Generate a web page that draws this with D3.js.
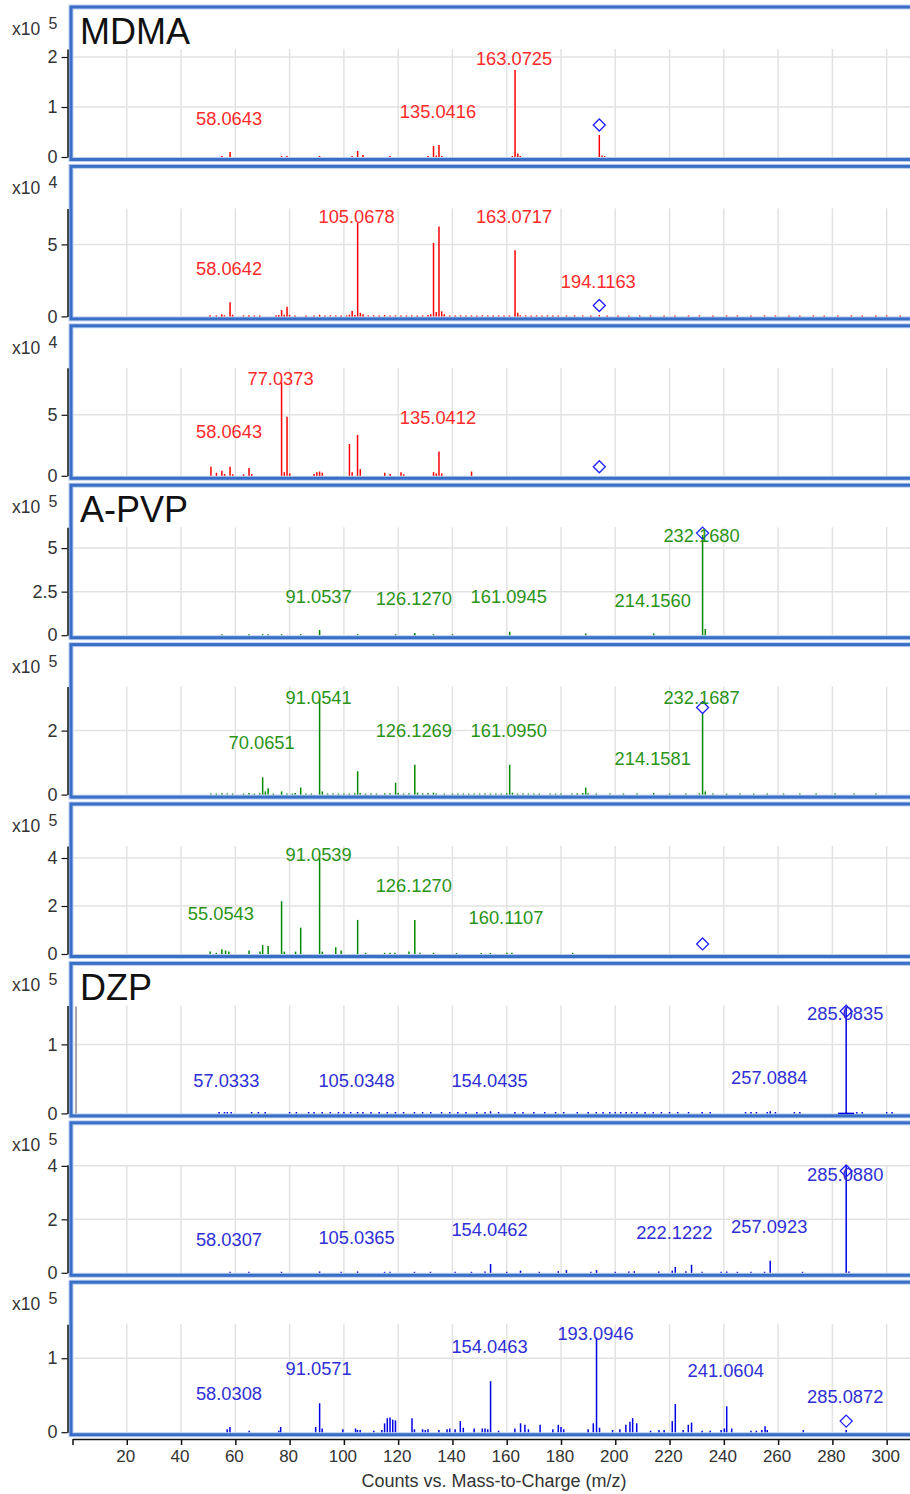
<!DOCTYPE html>
<html>
<head>
<meta charset="utf-8">
<script src="https://cdn.jsdelivr.net/npm/d3@7"></script>
<style>
  body { margin: 0; background: #fff; }
  svg { display: block; }
  text { font-family: "Liberation Sans", Arial, sans-serif; }
</style>
</head>
<body>
<svg id="chart" width="910" height="1494"></svg>
<script>
// ---------------------------------------------------------------
// Spectra: nine stacked MS/MS panels (three per compound)
// Each peak is [m/z, intensity in units of 10^exponent]
// ---------------------------------------------------------------
const panelTitles   = ["MDMA", "", "", "A-PVP", "", "", "DZP", "", ""];
const panelCompound = ["MDMA", "MDMA", "MDMA", "A-PVP", "A-PVP", "A-PVP", "DZP", "DZP", "DZP"];
const panelExponent = [5, 4, 4, 5, 5, 5, 5, 5, 5];
const panelYMax     = [2.16, 7.5, 8.85, 6.2, 3.375, 4.5, 1.565, 4.04, 1.46];
const panelYTicks   = [[0, 1, 2], [0, 5], [0, 5], [0, 2.5, 5], [0, 2], [0, 2, 4], [0, 1], [0, 2, 4], [0, 1]];

// precursor m/z and diamond level for each panel
const precursorMz    = [194.1163, 194.1163, 194.1163, 232.1680, 232.1680, 232.1680, 285.0835, 285.0835, 285.0835];
const precursorLevel = [0.64, 0.76, 0.74, 5.86, 2.72, 0.42, 1.48, 3.81, 0.15];

const xTickValues = [0, 20, 40, 60, 80, 100, 120, 140, 160, 180, 200, 220, 240, 260, 280, 300];
const xAxisTitle = "Counts vs. Mass-to-Charge (m/z)";

const peaksMDMA1 = [
  [55.05, 0.01], [58.06, 0.10], [77.04, 0.01], [79.05, 0.02], [91.05, 0.01], [103.04, 0.02],
  [105.07, 0.12], [107.05, 0.04], [117.0, 0.02], [131.0, 0.01], [133.03, 0.22], [134.04, 0.03],
  [135.04, 0.24], [136.04, 0.02], [162.06, 0.02], [163.07, 1.74], [164.08, 0.07], [165.0, 0.01],
  [194.12, 0.44], [195.12, 0.03], [196.1, 0.02]
];
const peaksMDMA2 = [
  [50.7, 0.08], [53.0, 0.06], [55.0, 0.15], [56.0, 0.08], [58.06, 0.98], [59.0, 0.12], [63.0, 0.06],
  [65.0, 0.08], [67.0, 0.05], [69.0, 0.06], [75.0, 0.08], [76.0, 0.1], [77.04, 0.44], [78.0, 0.12],
  [79.05, 0.67], [80.0, 0.1], [82.0, 0.05], [86.0, 0.05], [89.0, 0.06], [91.05, 0.12], [93.0, 0.05],
  [95.0, 0.06], [97.0, 0.05], [99.0, 0.06], [101.0, 0.05], [102.05, 0.12], [103.05, 0.37],
  [104.05, 0.1], [105.07, 6.5], [106.07, 0.25], [107.05, 0.15], [109.0, 0.06], [111.0, 0.05],
  [113.0, 0.05], [115.0, 0.1], [117.0, 0.06], [119.0, 0.05], [121.0, 0.06], [123.0, 0.05],
  [125.0, 0.05], [127.0, 0.05], [129.0, 0.05], [131.0, 0.1], [132.0, 0.15], [133.03, 5.1],
  [134.04, 0.3], [135.04, 6.25], [136.04, 0.35], [137.0, 0.15], [139.0, 0.06], [141.0, 0.05],
  [143.0, 0.05], [145.0, 0.06], [147.0, 0.06], [149.0, 0.05], [151.0, 0.05], [153.0, 0.05],
  [155.0, 0.06], [157.0, 0.05], [159.0, 0.05], [161.0, 0.06], [163.07, 4.6], [164.07, 0.25],
  [165.0, 0.08], [167.0, 0.05], [169.0, 0.05], [171.0, 0.05], [173.0, 0.05], [175.0, 0.05],
  [177.0, 0.06], [179.0, 0.06], [182.0, 0.05], [185.0, 0.05], [188.0, 0.05], [191.0, 0.05],
  [194.12, 0.1], [197.0, 0.05], [201.0, 0.05], [205.0, 0.05], [209.0, 0.05], [213.0, 0.05],
  [218.0, 0.05], [222.0, 0.05], [227.0, 0.05], [231.0, 0.05], [236.0, 0.05], [241.0, 0.05],
  [245.0, 0.05], [250.0, 0.05], [255.0, 0.05], [259.0, 0.05], [264.0, 0.05], [268.0, 0.05],
  [273.0, 0.05], [277.0, 0.05], [282.0, 0.05], [287.0, 0.05], [291.0, 0.05], [296.0, 0.05],
  [300.0, 0.05], [305.0, 0.05]
];
const peaksMDMA3 = [
  [51.02, 0.74], [53.04, 0.25], [55.05, 0.41], [56.05, 0.15], [58.06, 0.74], [59.05, 0.12],
  [63.02, 0.12], [65.04, 0.63], [66.05, 0.15], [77.04, 7.65], [78.05, 0.3], [79.05, 4.84],
  [80.05, 0.2], [89.04, 0.15], [90.05, 0.3], [91.05, 0.35], [92.05, 0.25], [102.05, 2.6],
  [103.05, 0.3], [105.03, 3.34], [106.04, 0.55], [115.05, 0.25], [117.06, 0.15], [121.05, 0.3],
  [122.04, 0.12], [133.03, 0.3], [134.04, 0.2], [135.04, 2.0], [136.04, 0.2], [147.04, 0.35]
];
const peaksAPVP1 = [
  [55.05, 0.02], [65.04, 0.02], [70.07, 0.06], [72.08, 0.03], [77.04, 0.04], [84.08, 0.06],
  [91.05, 0.3], [105.07, 0.06], [119.05, 0.03], [126.13, 0.12], [133.0, 0.03], [140.0, 0.03],
  [161.09, 0.2], [189.1, 0.1], [214.16, 0.1], [232.17, 5.75], [233.17, 0.35]
];
const peaksAPVP2 = [
  [51.0, 0.02], [53.0, 0.02], [55.05, 0.04], [57.0, 0.03], [59.0, 0.02], [63.0, 0.02],
  [65.04, 0.05], [67.0, 0.03], [69.0, 0.04], [70.07, 0.54], [71.07, 0.1], [72.08, 0.2],
  [74.0, 0.03], [77.04, 0.1], [79.0, 0.03], [81.0, 0.03], [82.07, 0.05], [84.08, 0.22],
  [86.0, 0.03], [88.0, 0.03], [91.05, 3.0], [92.06, 0.1], [94.0, 0.03], [96.0, 0.03],
  [98.0, 0.03], [100.0, 0.03], [102.0, 0.03], [104.0, 0.04], [105.07, 0.73], [106.0, 0.05],
  [108.0, 0.03], [110.0, 0.03], [112.0, 0.03], [115.05, 0.04], [117.0, 0.04], [119.05, 0.37],
  [120.0, 0.05], [122.0, 0.03], [124.0, 0.04], [126.13, 0.93], [127.13, 0.06], [129.0, 0.04],
  [131.0, 0.05], [133.0, 0.06], [134.0, 0.03], [137.0, 0.03], [140.0, 0.03], [142.0, 0.03],
  [144.0, 0.03], [146.0, 0.03], [148.0, 0.03], [150.0, 0.03], [152.0, 0.03], [154.0, 0.03],
  [156.0, 0.03], [158.0, 0.03], [160.0, 0.04], [161.09, 0.93], [162.1, 0.06], [164.0, 0.03],
  [166.0, 0.03], [168.0, 0.03], [170.0, 0.03], [172.0, 0.03], [176.0, 0.03], [178.0, 0.03],
  [180.0, 0.03], [184.0, 0.03], [186.0, 0.04], [188.0, 0.05], [189.1, 0.22], [190.0, 0.04],
  [193.0, 0.03], [198.0, 0.03], [203.0, 0.03], [208.0, 0.03], [214.16, 0.05], [220.0, 0.03],
  [226.0, 0.03], [231.0, 0.04], [232.17, 2.53], [233.17, 0.1], [236.0, 0.03], [241.0, 0.03],
  [246.0, 0.03], [251.0, 0.03], [256.0, 0.03], [262.0, 0.03], [268.0, 0.03], [274.0, 0.03],
  [281.0, 0.03], [288.0, 0.03], [296.0, 0.03]
];
const peaksAPVP3 = [
  [50.7, 0.1], [53.0, 0.05], [55.05, 0.2], [56.4, 0.15], [57.6, 0.1], [65.04, 0.15],
  [69.1, 0.1], [70.07, 0.37], [72.08, 0.33], [77.04, 2.2], [78.05, 0.1], [82.2, 0.1],
  [84.08, 1.1], [91.05, 4.0], [92.05, 0.1], [97.0, 0.28], [99.0, 0.15], [105.07, 1.42],
  [108.0, 0.05], [115.0, 0.05], [117.0, 0.05], [118.8, 0.05], [124.0, 0.1], [126.13, 1.42],
  [128.0, 0.05], [133.0, 0.05], [141.5, 0.04], [150.6, 0.03], [154.0, 0.03], [160.11, 0.05],
  [161.9, 0.05], [184.3, 0.05]
];
const peaksDZP1 = [
  [54.0, 0.02], [56.0, 0.02], [57.03, 0.02], [58.5, 0.02], [66.0, 0.02], [68.5, 0.02],
  [71.0, 0.02], [80.0, 0.02], [82.5, 0.02], [87.0, 0.02], [89.0, 0.02], [92.0, 0.02],
  [95.0, 0.02], [98.0, 0.02], [100.0, 0.02], [102.5, 0.02], [105.03, 0.02], [107.0, 0.02],
  [110.0, 0.02], [113.0, 0.02], [116.0, 0.02], [119.0, 0.02], [122.0, 0.02], [126.0, 0.02],
  [129.0, 0.02], [132.0, 0.02], [136.0, 0.02], [139.0, 0.02], [142.0, 0.02], [145.0, 0.02],
  [149.0, 0.02], [152.0, 0.02], [154.04, 0.03], [157.0, 0.02], [163.0, 0.02], [166.0, 0.02],
  [170.0, 0.02], [174.0, 0.02], [178.0, 0.02], [181.0, 0.02], [186.0, 0.02], [190.0, 0.02],
  [193.0, 0.02], [195.5, 0.02], [198.0, 0.02], [200.0, 0.02], [202.0, 0.02], [204.0, 0.02],
  [206.0, 0.02], [208.0, 0.02], [211.0, 0.02], [214.0, 0.02], [217.0, 0.02], [220.0, 0.02],
  [223.0, 0.02], [227.0, 0.02], [232.0, 0.02], [235.0, 0.02], [248.0, 0.02], [250.0, 0.02],
  [252.0, 0.02], [256.0, 0.02], [257.09, 0.03], [259.0, 0.02], [266.0, 0.02], [268.0, 0.02],
  [285.08, 1.55], [289.0, 0.02], [291.0, 0.02], [300.0, 0.02], [302.0, 0.02]
];
const peaksDZP2 = [
  [58.03, 0.04], [65.0, 0.02], [77.0, 0.02], [91.05, 0.05], [99.0, 0.02], [105.04, 0.05],
  [115.0, 0.02], [117.0, 0.03], [126.0, 0.02], [131.9, 0.04], [141.0, 0.03], [147.0, 0.02],
  [152.0, 0.05], [154.05, 0.33], [160.0, 0.02], [165.07, 0.08], [172.0, 0.03], [179.0, 0.06],
  [182.0, 0.1], [191.0, 0.03], [193.1, 0.1], [200.0, 0.03], [205.0, 0.05], [207.0, 0.06],
  [216.0, 0.05], [221.0, 0.08], [222.12, 0.22], [226.0, 0.06], [228.1, 0.3], [232.0, 0.03],
  [239.0, 0.03], [241.06, 0.05], [245.0, 0.03], [250.0, 0.03], [255.0, 0.04], [257.09, 0.45],
  [269.0, 0.03], [285.09, 4.0], [286.09, 0.05]
];
const peaksDZP3 = [
  [57.0, 0.04], [58.03, 0.07], [65.1, 0.02], [76.0, 0.02], [76.7, 0.07], [89.6, 0.07],
  [91.06, 0.39], [92.0, 0.05], [99.6, 0.04], [104.3, 0.05], [105.0, 0.03], [106.0, 0.03],
  [111.0, 0.02], [114.0, 0.03], [115.0, 0.12], [116.0, 0.19], [117.0, 0.2], [118.0, 0.17],
  [119.0, 0.16], [125.1, 0.19], [126.0, 0.04], [129.0, 0.04], [130.0, 0.03], [131.0, 0.04],
  [135.0, 0.03], [138.0, 0.04], [139.0, 0.05], [141.0, 0.04], [142.9, 0.15], [144.0, 0.06],
  [148.0, 0.05], [151.0, 0.05], [152.0, 0.05], [153.0, 0.04], [154.05, 0.69], [157.0, 0.02],
  [163.0, 0.05], [165.1, 0.12], [166.7, 0.1], [168.0, 0.04], [172.3, 0.1], [177.0, 0.04],
  [179.0, 0.1], [180.0, 0.07], [181.0, 0.04], [190.0, 0.04], [191.9, 0.12], [193.09, 1.28],
  [194.2, 0.06], [199.0, 0.03], [201.7, 0.04], [203.9, 0.1], [205.4, 0.14], [206.4, 0.19],
  [207.9, 0.12], [213.0, 0.02], [216.1, 0.03], [218.0, 0.03], [221.0, 0.15], [222.12, 0.38],
  [225.0, 0.03], [226.9, 0.1], [228.1, 0.13], [232.0, 0.02], [235.0, 0.02], [239.0, 0.03],
  [240.2, 0.05], [241.06, 0.35], [242.9, 0.05], [250.0, 0.02], [252.0, 0.02], [254.0, 0.03],
  [255.2, 0.08], [256.0, 0.03], [269.3, 0.03], [285.09, 0.03]
];
const panelPeaks = [peaksMDMA1, peaksMDMA2, peaksMDMA3, peaksAPVP1, peaksAPVP2, peaksAPVP3, peaksDZP1, peaksDZP2, peaksDZP3];

// peak annotations: [text, level of the text baseline in panel units]
const labelsMDMA1 = [["58.0643", 0.64], ["135.0416", 0.78], ["163.0725", 1.84]];
const labelsMDMA2 = [["58.0642", 2.85], ["105.0678", 6.46], ["163.0717", 6.46], ["194.1163", 2.0]];
const labelsMDMA3 = [["58.0643", 3.11], ["77.0373", 7.46], ["135.0412", 4.26]];
const labelsAPVP1 = [["91.0537", 1.84], ["126.1270", 1.72], ["161.0945", 1.84], ["214.1560", 1.61], ["232.1680", 5.34]];
const labelsAPVP2 = [["70.0651", 1.41], ["91.0541", 2.84], ["126.1269", 1.81], ["161.0950", 1.81], ["214.1581", 0.91], ["232.1687", 2.84]];
const labelsAPVP3 = [["55.0543", 1.42], ["91.0539", 3.875], ["126.1270", 2.58], ["160.1107", 1.25]];
const labelsDZP1 = [["57.0333", 0.377], ["105.0348", 0.377], ["154.0435", 0.377], ["257.0884", 0.42], ["285.0835", 1.35]];
const labelsDZP2 = [["58.0307", 1.01], ["105.0365", 1.08], ["154.0462", 1.38], ["222.1222", 1.27], ["257.0923", 1.5], ["285.0880", 3.44]];
const labelsDZP3 = [["58.0308", 0.43], ["91.0571", 0.77], ["154.0463", 1.07], ["193.0946", 1.24], ["241.0604", 0.74], ["285.0872", 0.39]];
const panelLabels = [labelsMDMA1, labelsMDMA2, labelsMDMA3, labelsAPVP1, labelsAPVP2, labelsAPVP3, labelsDZP1, labelsDZP2, labelsDZP3];

// first DZP panel: grey reference trace near the origin and the isolation window at the base
const dzpReferenceMz = 1.3;
const dzpIsolationWindow = [282.1, 288.0];

// ---------------------------------------------------------------
// Styles
// ---------------------------------------------------------------
const markColor  = { "MDMA": "#ff0000", "A-PVP": "#008a00", "DZP": "#0000e6" };
const labelColor = { "MDMA": "#ff2a2a", "A-PVP": "#2a9418", "DZP": "#2f2fd6" };
const FRAME_BLUE = "#3a6fc8";
const FRAME_LIGHT = "#b8cdee";
const GRID = "#e2e2e2";
const TEXT = "#333";

const W = 910;
const PANEL_TOP0 = 6, PANEL_STEP = 159.4;
const PLOT_TOP_OFF = 43, PLOT_ZERO_OFF = 151;
const AXIS_X = 67.5;

const svg = d3.select("#chart");
const x = d3.scaleLinear().domain([0, 308.6]).range([72.5, 910]);

svg.append("defs").append("clipPath").attr("id", "plotClip")
  .append("rect").attr("x", 72).attr("y", 0).attr("width", W - 72).attr("height", 1494);

const diamond = "M0,-6L6,0L0,6L-6,0Z";

panelPeaks.forEach((peaks, i) => {
  const top = PANEL_TOP0 + i * PANEL_STEP;
  const yZero = top + PLOT_ZERO_OFF;
  const yTop = top + PLOT_TOP_OFF;
  const y = d3.scaleLinear().domain([0, panelYMax[i]]).range([yZero, yTop]);
  const comp = panelCompound[i];
  const g = svg.append("g");

  // grid
  g.append("g").selectAll("line").data(xTickValues.filter(v => v > 0)).join("line")
    .attr("x1", d => x(d)).attr("x2", d => x(d))
    .attr("y1", yTop).attr("y2", yZero)
    .attr("stroke", GRID).attr("stroke-width", 1.5);
  g.append("g").selectAll("line").data(panelYTicks[i].filter(v => v > 0)).join("line")
    .attr("x1", 72).attr("x2", W)
    .attr("y1", d => y(d)).attr("y2", d => y(d))
    .attr("stroke", GRID).attr("stroke-width", 1.5);

  // frame
  g.append("rect").attr("x", 71).attr("y", top + 1).attr("width", 900).attr("height", 152.5)
    .attr("fill", "none").attr("stroke", FRAME_LIGHT).attr("stroke-width", 5);
  g.append("rect").attr("x", 71).attr("y", top + 1).attr("width", 900).attr("height", 152.5)
    .attr("fill", "none").attr("stroke", FRAME_BLUE).attr("stroke-width", 3);

  // title
  if (panelTitles[i]) {
    g.append("text").attr("x", 80).attr("y", top + 38)
      .attr("font-size", 36).attr("fill", "#111").text(panelTitles[i]);
  }

  // y axis
  const yAxis = d3.axisLeft(y).tickValues(panelYTicks[i]).tickSize(6).tickSizeOuter(0)
    .tickPadding(4).tickFormat(d => String(d));
  const ya = g.append("g").attr("transform", `translate(${AXIS_X},0)`).call(yAxis);
  ya.select(".domain").attr("stroke", "#111").attr("stroke-width", 1.5);
  ya.selectAll(".tick line").attr("stroke", "#111").attr("stroke-width", 1.2);
  ya.selectAll(".tick text").attr("font-size", 18).attr("fill", TEXT)
    .attr("font-family", "'Liberation Sans', Arial, sans-serif");

  // exponent
  g.append("text").attr("x", 12).attr("y", yTop - 14).attr("font-size", 17.5).attr("fill", TEXT).text("x10");
  g.append("text").attr("x", 48.5).attr("y", yTop - 20).attr("font-size", 16).attr("fill", TEXT).text(panelExponent[i]);

  const pg = g.append("g").attr("clip-path", "url(#plotClip)");

  if (i === 6) {
    pg.append("line").attr("x1", x(dzpReferenceMz)).attr("x2", x(dzpReferenceMz))
      .attr("y1", yZero).attr("y2", yTop + 1).attr("stroke", "#8a8a8a").attr("stroke-width", 1.5);
    pg.append("line").attr("x1", x(dzpIsolationWindow[0])).attr("x2", x(dzpIsolationWindow[1]))
      .attr("y1", yZero).attr("y2", yZero).attr("stroke", markColor[comp]).attr("stroke-width", 1.5);
  }

  // sticks
  pg.append("g").selectAll("line").data(peaks).join("line")
    .attr("x1", d => x(d[0])).attr("x2", d => x(d[0]))
    .attr("y1", yZero).attr("y2", d => Math.min(y(d[1]), yZero - 1))
    .attr("stroke", markColor[comp]).attr("stroke-width", 1.5);

  // precursor diamond
  pg.append("path").attr("d", diamond)
    .attr("transform", `translate(${x(precursorMz[i])},${y(precursorLevel[i])})`)
    .attr("fill", "none").attr("stroke", "#1f1fff").attr("stroke-width", 1.3);

  // annotations
  pg.append("g").selectAll("text").data(panelLabels[i]).join("text")
    .attr("x", d => x(parseFloat(d[0])) - 1).attr("y", d => y(d[1]))
    .attr("text-anchor", "middle").attr("font-size", 18.3)
    .attr("fill", labelColor[comp]).text(d => d[0]);
});

// shared m/z axis
const AXIS_Y = 1439;
const xAxis = d3.axisBottom(x).tickValues(xTickValues).tickSize(6).tickSizeOuter(0)
  .tickPadding(5).tickFormat(d => d === 0 ? "" : String(d));
const xa = svg.append("g").attr("transform", `translate(0,${AXIS_Y})`).call(xAxis);
xa.select(".domain").attr("stroke", "#111").attr("stroke-width", 1.5);
xa.selectAll(".tick line").attr("stroke", "#111").attr("stroke-width", 1.5);
xa.selectAll(".tick text").attr("font-size", 17).attr("fill", TEXT)
  .attr("font-family", "'Liberation Sans', Arial, sans-serif")
  .attr("dx", -1.5);

svg.append("text").attr("x", 494).attr("y", 1487).attr("text-anchor", "middle")
  .attr("font-size", 18).attr("fill", TEXT).text(xAxisTitle);
</script>
</body>
</html>
